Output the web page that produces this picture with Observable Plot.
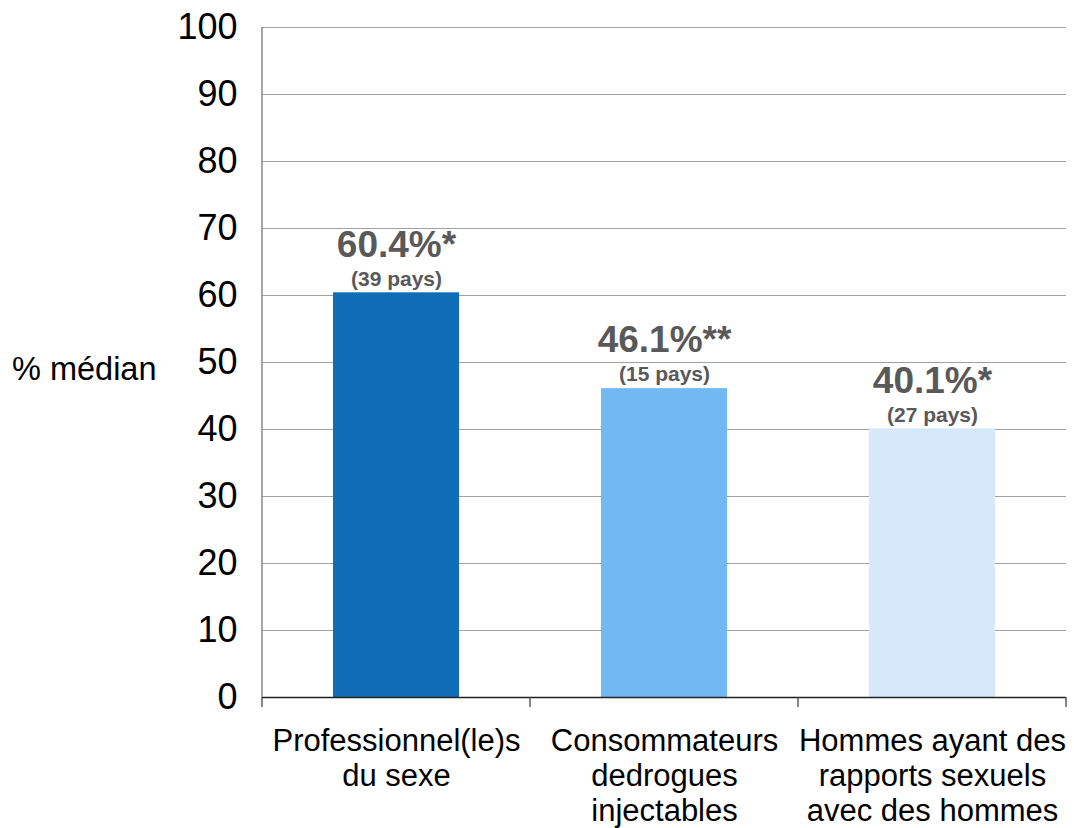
<!DOCTYPE html>
<html>
<head>
<meta charset="utf-8">
<script src="https://cdn.jsdelivr.net/npm/d3@7"></script>
<script src="https://cdn.jsdelivr.net/npm/@observablehq/plot@0.6"></script>
<style>
  body { margin: 0; background: #fff; font-family: "Liberation Sans", Arial, sans-serif; }
  #wrap { position: relative; width: 1074px; height: 828px; }
  #ylab { position: absolute; left: 12px; top: 350px; font-size: 32.5px; line-height: 38px; color: #000; }
</style>
</head>
<body>
<div id="wrap"><div id="ylab">% médian</div><div id="chart"></div></div>
<script>
const categories = ["Professionnel(le)s\ndu sexe", "Consommateurs\ndedrogues\ninjectables", "Hommes ayant des\nrapports sexuels\navec des hommes"];
const values = [60.4, 46.1, 40.1];
const valueLabels = ["60.4%*", "46.1%**", "40.1%*"];
const countLabels = ["(39 pays)", "(15 pays)", "(27 pays)"];
const colors = ["#0F6CB6", "#72B8F2", "#D6E9FB"];
const yTicks = [0, 10, 20, 30, 40, 50, 60, 70, 80, 90, 100];

const data = categories.map((c, i) => ({cat: c, value: values[i], vlab: valueLabels[i], clab: countLabels[i], color: colors[i]}));

const bandTicks = (index, scales, values, dims) => {
  const n = categories.length;
  const x0 = dims.marginLeft, x1 = dims.width - dims.marginRight;
  const yb = dims.height - dims.marginBottom;
  const g = d3.create("svg:g");
  for (let i = 0; i <= n; i++) {
    const x = x0 + (x1 - x0) * i / n;
    g.append("line").attr("x1", x).attr("x2", x).attr("y1", yb).attr("y2", yb + 10)
      .attr("stroke", "#444").attr("stroke-width", 1.3);
  }
  return g.node();
};

const chart = Plot.plot({
  width: 1074,
  height: 828,
  marginLeft: 262,
  marginRight: 8,
  marginTop: 27,
  marginBottom: 131,
  style: {fontFamily: "'Liberation Sans', Arial, sans-serif", background: "#fff"},
  x: {domain: categories, paddingInner: 0.53, paddingOuter: 0.265, label: null},
  y: {domain: [0, 100], label: null},
  marks: [
    Plot.gridY(yTicks, {stroke: "#a0a0a0", strokeOpacity: 1, strokeWidth: 1.2}),
    Plot.axisY(yTicks, {tickSize: 0, tickPadding: 25, fontSize: 36, fill: "#000", label: null}),
    Plot.barY(data, {x: "cat", y: "value", fill: "color"}),
    Plot.text(data, {x: "cat", y: "value", text: "vlab", dy: -48, fontSize: 37, fontWeight: "bold", fill: "#595959"}),
    Plot.text(data, {x: "cat", y: "value", text: "clab", dy: -14, fontSize: 21, fontWeight: "bold", fill: "#595959"}),
    Plot.axisX({tickSize: 0, tickPadding: 29, fontSize: 31, fill: "#000", lineHeight: 1.12, textAnchor: "middle", label: null}),
    Plot.ruleY([0], {stroke: "#222", strokeWidth: 1.5}),
    bandTicks
  ]
});

// left vertical axis line
const svg = d3.select(chart);
svg.append("line").attr("x1", 262).attr("x2", 262)
  .attr("y1", 27).attr("y2", 697).attr("stroke", "#8a8a8a").attr("stroke-width", 1.5);
document.getElementById("chart").appendChild(chart);
</script>
</body>
</html>
